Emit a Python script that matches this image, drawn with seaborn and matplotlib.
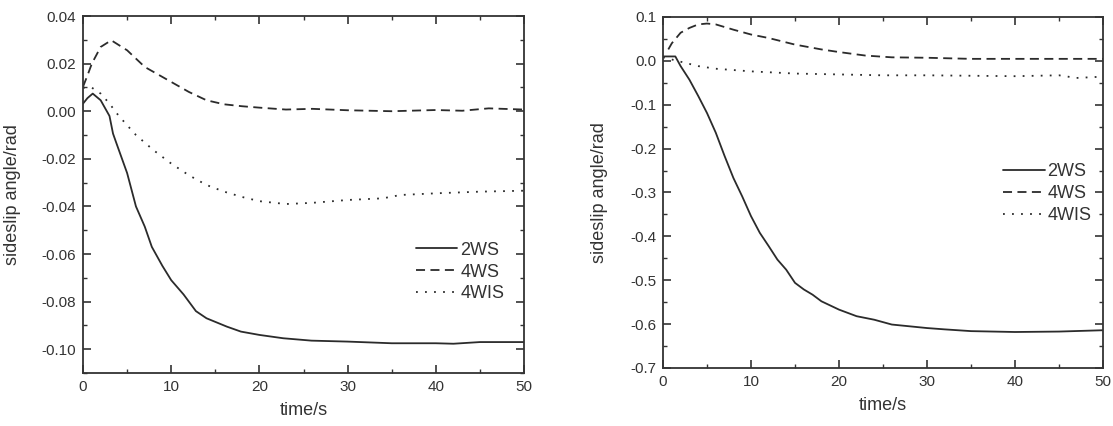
import numpy as np
import pandas as pd
import seaborn as sns
from matplotlib import pyplot as plt
from matplotlib.ticker import MultipleLocator

# left plot: small steering input
t_2ws_a = [0, 0.5, 1.1, 2, 3, 3.4, 3.8, 5, 6, 7, 7.8, 9, 10, 11.4, 12.8, 14, 16.3, 17.9, 20, 22.7, 25.9, 30, 35, 40, 42, 45, 50]
b_2ws_a = [0.0032, 0.0055, 0.0074, 0.0046, -0.002, -0.0094, -0.0136, -0.026, -0.040, -0.0485, -0.057, -0.065, -0.071, -0.077, -0.084, -0.087, -0.0905, -0.0926, -0.094, -0.0954, -0.0964, -0.0968, -0.0975, -0.0975, -0.0977, -0.097, -0.097]
t_4ws_a = [0, 0.5, 1, 2, 3.2, 5, 7, 9, 10, 12, 14, 16, 18, 20, 23, 26, 30, 35, 40, 43, 46, 50]
b_4ws_a = [0.0103, 0.015, 0.020, 0.027, 0.0298, 0.0256, 0.0186, 0.0144, 0.0123, 0.0081, 0.0046, 0.0029, 0.0021, 0.0015, 0.0007, 0.001, 0.0004, 0.0, 0.0005, 0.0002, 0.0012, 0.0007]
t_4wis_a = [0, 1, 2, 3, 4, 5, 6, 8, 10, 12, 14, 16, 18, 20, 23, 26, 30, 34, 36, 40, 45, 50]
b_4wis_a = [0.0099, 0.0099, 0.0074, 0.0032, -0.0017, -0.0059, -0.010, -0.0164, -0.022, -0.0269, -0.031, -0.0338, -0.036, -0.0378, -0.039, -0.0385, -0.0373, -0.0366, -0.0352, -0.0345, -0.0338, -0.0334]

# right plot: large steering input
t_2ws_b = [0, 1.4, 2, 3, 4, 5, 6, 7, 8, 9, 10, 11, 12, 13, 14, 15, 16, 17, 18, 20, 22, 24, 26, 28, 30, 32, 35, 40, 45, 50]
b_2ws_b = [0.01, 0.01, -0.012, -0.043, -0.08, -0.119, -0.164, -0.217, -0.267, -0.309, -0.354, -0.392, -0.422, -0.453, -0.476, -0.506, -0.521, -0.533, -0.548, -0.567, -0.582, -0.59, -0.601, -0.605, -0.609, -0.612, -0.616, -0.618, -0.617, -0.614]
t_4ws_b = [0.6, 1, 2, 3, 4, 5, 6, 8, 10, 12, 15, 18, 20, 23, 26, 30, 35, 40, 50]
b_4ws_b = [0.026, 0.040, 0.064, 0.075, 0.083, 0.085, 0.083, 0.071, 0.060, 0.052, 0.037, 0.026, 0.020, 0.012, 0.008, 0.007, 0.0045, 0.0045, 0.0045]
t_4wis_b = [0, 1, 2, 4, 6, 8, 10, 15, 20, 25, 30, 40, 45, 47, 50]
b_4wis_b = [0.008, 0.003, -0.002, -0.012, -0.018, -0.021, -0.024, -0.029, -0.031, -0.033, -0.033, -0.035, -0.033, -0.039, -0.036]

labels = ['2WS', '4WS', '4WIS']
styles = ['-', (0, (5, 3)), (0, (1, 4))]

sns.set_style('ticks')
plt.rcParams['font.family'] = ['Liberation Sans', 'DejaVu Sans']

fig = plt.figure(figsize=(11.13, 4.26), dpi=100)
ax1 = fig.add_axes([0.0746, 0.1244, 0.3962, 0.838])
ax2 = fig.add_axes([0.5957, 0.1362, 0.3953, 0.824])


def fmt2(v, p):
    return '0.00' if abs(v) < 1e-9 else f'{v:.2f}'


def fmt1(v, p):
    return '0.0' if abs(v) < 1e-9 else f'{v:.1f}'


panels = [
    (ax1, [(t_2ws_a, b_2ws_a), (t_4ws_a, b_4ws_a), (t_4wis_a, b_4wis_a)], (-0.11, 0.04), 0.02, 0.01, fmt2, (0.755, 0.368), -0.14),
    (ax2, [(t_2ws_b, b_2ws_b), (t_4ws_b, b_4ws_b), (t_4wis_b, b_4wis_b)], (-0.7, 0.1), 0.1, 0.05, fmt1, (0.773, 0.583), -0.125),
]

for ax, series, ylim, major, minor, fmt, legpos, ylx in panels:
    for (t, b), lab, ls in zip(series, labels, styles):
        sns.lineplot(x=t, y=b, ax=ax, color='#2b2b2b', linewidth=1.3, linestyle=ls, label=lab)
    ax.set_xlim(0, 50)
    ax.set_ylim(*ylim)
    ax.xaxis.set_major_locator(MultipleLocator(10))
    ax.xaxis.set_minor_locator(MultipleLocator(5))
    ax.yaxis.set_major_locator(MultipleLocator(major))
    ax.yaxis.set_minor_locator(MultipleLocator(minor))
    ax.yaxis.set_major_formatter(plt.FuncFormatter(fmt))
    ax.tick_params(which='both', direction='in', top=True, right=True, colors='#333333',
                   labelcolor='#333333', labelsize=11, pad=5)
    ax.tick_params(which='major', length=6, width=1.2)
    ax.tick_params(which='minor', length=3, width=1.0)
    for sp in ax.spines.values():
        sp.set_color('#333333')
        sp.set_linewidth(1.3)
    ax.set_xlabel('time/s', fontsize=13, color='#333333', labelpad=6)
    ax.set_ylabel('sideslip angle/rad', fontsize=13, color='#333333')
    ax.yaxis.set_label_coords(ylx, 0.5)
    leg = ax.legend(loc='upper left', bbox_to_anchor=legpos, frameon=False, fontsize=13,
                    handlelength=2.3, handletextpad=0.15, labelspacing=0.27, borderpad=0, borderaxespad=0)
    for txt in leg.get_texts():
        txt.set_color('#333333')

fig.savefig('out.png', dpi=100)
